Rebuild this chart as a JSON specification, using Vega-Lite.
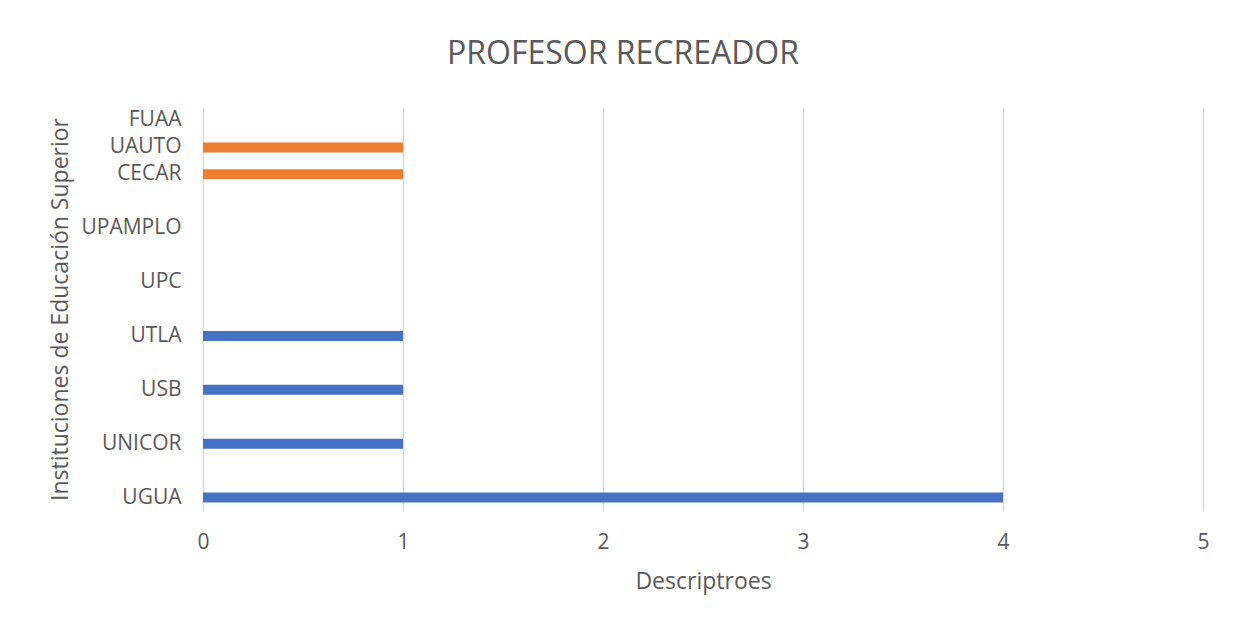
{
  "$schema": "https://vega.github.io/schema/vega-lite/v6.json",
  "width": 1000,
  "height": 404,
  "autosize": {"type": "none"},
  "padding": {"left": 203, "top": 107, "right": 31, "bottom": 116},
  "background": "white",
  "config": {
    "font": "Open Sans",
    "view": {"stroke": null}
  },
  "title": {
    "text": "PROFESOR RECREADOR",
    "fontSize": 32,
    "fontWeight": "normal",
    "color": "#595959",
    "anchor": "middle",
    "frame": "group",
    "dx": -80,
    "baseline": "alphabetic",
    "offset": 11
  },
  "data": {
    "values": [
      {"institucion": "UGUA", "descriptores": 4, "serie": "A"},
      {"institucion": "UNICOR", "descriptores": 1, "serie": "A"},
      {"institucion": "USB", "descriptores": 1, "serie": "A"},
      {"institucion": "UTLA", "descriptores": 1, "serie": "A"},
      {"institucion": "UPC", "descriptores": 0, "serie": "A"},
      {"institucion": "UPAMPLO", "descriptores": 0, "serie": "A"},
      {"institucion": "CECAR", "descriptores": 1, "serie": "B"},
      {"institucion": "UAUTO", "descriptores": 1, "serie": "B"},
      {"institucion": "FUAA", "descriptores": 0, "serie": "B"}
    ]
  },
  "mark": {"type": "bar", "size": 10},
  "encoding": {
    "y": {
      "field": "institucion",
      "type": "nominal",
      "scale": {
        "domain": ["FUAA", "UAUTO", "CECAR", "_6", "UPAMPLO", "_5", "UPC", "_4", "UTLA", "_3", "USB", "_2", "UNICOR", "_1", "UGUA"],
        "paddingInner": 0,
        "paddingOuter": 0
      },
      "axis": {
        "title": "Instituciones de Educación Superior",
        "titleFontSize": 23,
        "titleFontWeight": "normal",
        "titleColor": "#595959",
        "titlePadding": 8,
        "labelExpr": "indexof(datum.value, '_') == 0 ? '' : datum.value",
        "labelFontSize": 21,
        "labelColor": "#595959",
        "labelPadding": 22,
        "domain": false,
        "ticks": false,
        "grid": false
      }
    },
    "x": {
      "field": "descriptores",
      "type": "quantitative",
      "scale": {"domain": [0, 5], "nice": false},
      "axis": {
        "title": "Descriptroes",
        "titleFontSize": 23,
        "titleFontWeight": "normal",
        "titleColor": "#595959",
        "titlePadding": 18,
        "values": [0, 1, 2, 3, 4, 5],
        "labelFontSize": 21,
        "labelColor": "#595959",
        "labelPadding": 20,
        "labelFlush": false,
        "domain": false,
        "ticks": false,
        "grid": true,
        "gridColor": "#d9d9d9",
        "gridWidth": 1.5
      }
    },
    "color": {
      "field": "serie",
      "type": "nominal",
      "scale": {"domain": ["A", "B"], "range": ["#4472C4", "#ED7D31"]},
      "legend": null
    }
  }
}
